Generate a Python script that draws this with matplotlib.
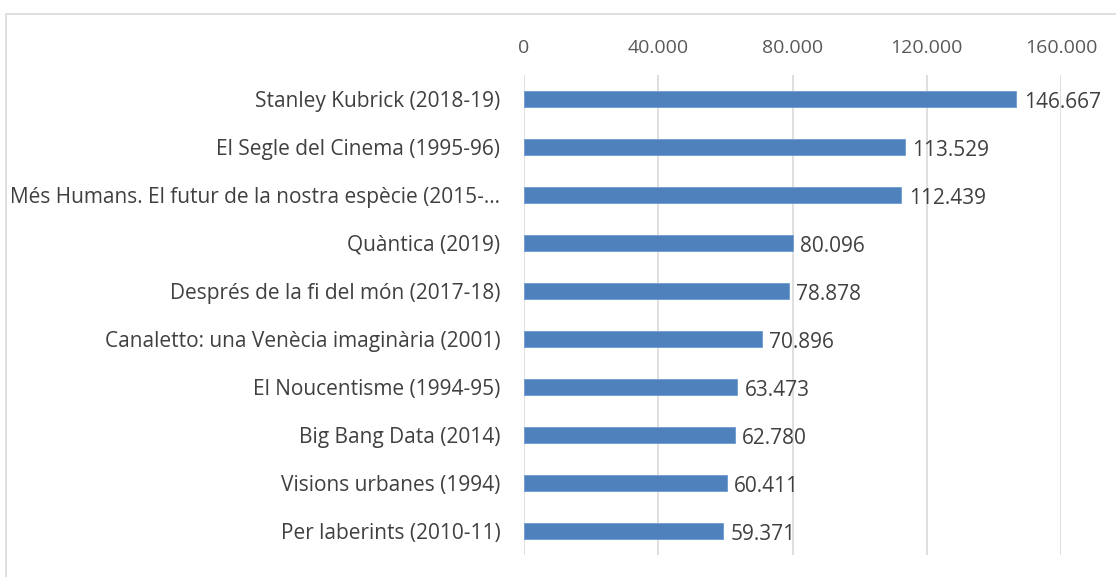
import matplotlib
matplotlib.use("Agg")
import matplotlib.pyplot as plt
from matplotlib.patches import Rectangle

# dades de l'exposicio (visitants)
categories = [
    "Stanley Kubrick (2018-19)",
    "El Segle del Cinema (1995-96)",
    "Més Humans. El futur de la nostra espècie (2015-…",
    "Quàntica (2019)",
    "Després de la fi del món (2017-18)",
    "Canaletto: una Venècia imaginària (2001)",
    "El Noucentisme (1994-95)",
    "Big Bang Data (2014)",
    "Visions urbanes (1994)",
    "Per laberints (2010-11)",
]
visitants = [146667, 113529, 112439, 80096, 78878, 70896, 63473, 62780, 60411, 59371]
ticks = [0, 40000, 80000, 120000, 160000]

def fmt(v):
    return f"{v:,}".replace(",", ".")

plt.rcParams['font.family'] = ['Open Sans', 'DejaVu Sans']

W, H = 1116, 577
fig = plt.figure(figsize=(W / 100, H / 100), dpi=100)
ax = fig.add_axes([524 / W, 1 - 555 / H, (1061 - 524) / W, (555 - 75) / H])

# requadre del grafic
fig.patches.append(Rectangle((6 / W, -0.1), 1.2, 1 - 14 / H + 0.1, transform=fig.transFigure,
                             fill=False, edgecolor='#d9d9d9', linewidth=1.2))

y = list(range(len(categories)))
ax.barh(y, visitants, height=0.34, color='#4f81bd', edgecolor='#6f9bd0', linewidth=0.6, zorder=3)
for yi, v in zip(y, visitants):
    ax.text(v + 2200, yi + 0.07, fmt(v), va='center', ha='left', fontsize=15, color='#404040')

ax.set_xlim(0, 160000)
ax.set_ylim(len(categories) - 0.5, -0.5)
ax.set_yticks(y)
ax.set_yticklabels(categories, fontsize=15, color='#404040')
ax.set_xticks(ticks)
ax.set_xticklabels([fmt(t) for t in ticks], fontsize=14, color='#595959')
ax.xaxis.tick_top()
ax.tick_params(length=0)
ax.tick_params(axis='x', pad=13)
ax.tick_params(axis='y', pad=17)
ax.grid(axis='x', color='#d9d9d9', linewidth=1.2, zorder=0)
for s in ax.spines.values():
    s.set_visible(False)

fig.savefig("out.png", dpi=100)
